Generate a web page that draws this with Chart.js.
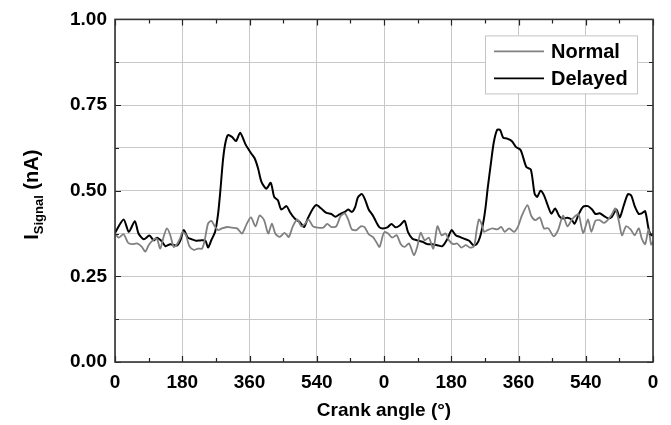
<!DOCTYPE html>
<html>
<head>
<meta charset="utf-8">
<script src="https://cdn.jsdelivr.net/npm/chart.js@4.4.1/dist/chart.umd.min.js"></script>
<style>
  body { margin: 0; background: #fff; }
</style>
</head>
<body>
<canvas id="myChart" width="671" height="425"></canvas>
<script>
// crank angle in degrees over two cycles (0..1440), signal in nA
const normalAngle = [0,10,23,35,46,59,72,81,90,101,112,121,130,139,148,157,166,175,181,190,199,211,222,233,240,249,258,267,276,286,300,313,327,340,353,364,376,387,399,410,420,429,441,454,465,476,488,499,509,518,530,543,557,568,579,592,604,615,624,634,646,658,668,679,690,699,708,717,722,731,742,754,765,775,787,800,809,818,829,840,852,863,874,885,894,905,916,927,939,950,961,968,974,980,988,997,1010,1023,1034,1043,1055,1068,1079,1089,1104,1114,1125,1137,1148,1160,1174,1186,1199,1211,1222,1232,1241,1253,1266,1275,1286,1297,1309,1320,1330,1339,1348,1357,1368,1380,1391,1402,1410,1419,1428,1435,1440];
const normalSignal = [.375,.363,.373,.348,.344,.346,.336,.322,.341,.355,.36,.331,.365,.39,.37,.336,.344,.363,.38,.37,.338,.327,.331,.331,.355,.404,.412,.396,.385,.39,.394,.392,.39,.375,.404,.422,.396,.428,.414,.375,.404,.375,.365,.377,.365,.396,.416,.396,.404,.416,.396,.392,.392,.403,.394,.396,.426,.434,.416,.387,.385,.396,.394,.373,.365,.351,.336,.37,.38,.375,.363,.37,.344,.336,.346,.312,.336,.377,.355,.363,.331,.396,.37,.375,.355,.344,.346,.334,.341,.334,.338,.385,.416,.406,.38,.385,.39,.387,.394,.38,.39,.38,.396,.427,.458,.427,.414,.422,.39,.39,.367,.385,.427,.396,.414,.426,.431,.377,.416,.38,.412,.414,.406,.416,.431,.448,.414,.37,.396,.387,.37,.39,.36,.344,.387,.343,.35];

const delayedAngle = [0,23,37,53,63,77,92,104,112,124,135,148,166,175,184,195,206,217,228,242,249,258,268,276,282,289,295,302,313,324,335,349,356,365,374,383,392,405,417,426,436,445,459,468,481,494,506,516,530,539,552,566,579,590,601,615,624,634,643,650,661,670,679,690,699,708,717,729,740,751,763,775,784,796,809,823,836,849,863,876,890,901,912,923,934,948,959,968,977,986,992,998,1006,1014,1023,1031,1039,1050,1062,1073,1086,1101,1113,1123,1130,1139,1148,1159,1168,1178,1190,1199,1211,1222,1230,1241,1253,1266,1277,1286,1297,1309,1320,1330,1342,1351,1362,1373,1382,1391,1402,1410,1419,1428,1435,1440];
const delayedSignal = [.377,.416,.38,.411,.375,.358,.369,.355,.363,.354,.338,.344,.34,.355,.385,.363,.358,.354,.355,.354,.334,.356,.38,.433,.5,.589,.637,.662,.657,.645,.669,.636,.623,.608,.594,.565,.526,.506,.523,.482,.472,.445,.455,.438,.419,.409,.394,.419,.448,.458,.448,.435,.432,.424,.431,.438,.445,.438,.453,.48,.49,.472,.445,.428,.409,.393,.39,.393,.403,.393,.399,.412,.38,.36,.355,.351,.344,.344,.341,.338,.36,.385,.37,.365,.36,.354,.341,.344,.365,.409,.453,.511,.579,.642,.678,.677,.655,.652,.645,.628,.618,.569,.562,.492,.482,.5,.487,.455,.433,.448,.424,.419,.421,.416,.404,.431,.453,.455,.445,.432,.434,.426,.419,.424,.445,.422,.458,.49,.485,.455,.432,.434,.44,.39,.37,.375];

const xTickLabels = ['0','180','360','540','0','180','360','540','0'];
const yTickLabels = ['0.00','0.25','0.50','0.75','1.00'];
const seriesNames = ['Normal','Delayed'];
const seriesColors = ['#808080','#000000'];

const FONT = '"Liberation Sans", Arial, sans-serif';

function toPoints(xs, ys) {
  return xs.map((v, i) => ({x: v, y: ys[i]}));
}

// inward ticks, frame, legend box and the y title with subscript
const decorations = {
  id: 'decorations',
  afterDraw(chart) {
    const ctx = chart.ctx;
    const a = chart.chartArea;
    const xs = chart.scales.x, ys = chart.scales.y;
    ctx.save();
    ctx.strokeStyle = '#222';
    ctx.lineWidth = 1.2;
    ctx.beginPath();
    for (let v = 0; v <= 1440; v += 90) {
      const px = Math.round(xs.getPixelForValue(v)) + 0.5;
      const len = v % 180 === 0 ? 6 : 4;
      ctx.moveTo(px, a.bottom); ctx.lineTo(px, a.bottom - len);
      ctx.moveTo(px, a.top); ctx.lineTo(px, a.top + len);
    }
    for (let i = 0; i <= 8; i++) {
      const v = i * 0.125;
      const py = Math.round(ys.getPixelForValue(v)) + 0.5;
      const len = i % 2 === 0 ? 6 : 4;
      ctx.moveTo(a.left, py); ctx.lineTo(a.left + len, py);
      ctx.moveTo(a.right, py); ctx.lineTo(a.right - len, py);
    }
    ctx.stroke();

    ctx.lineWidth = 1.6;
    ctx.strokeStyle = '#333';
    ctx.strokeRect(a.left, a.top, a.right - a.left, a.bottom - a.top);

    // legend
    const lx = a.right - 168, ly = a.top + 16, lw = 152, lh = 58;
    ctx.fillStyle = '#fff';
    ctx.fillRect(lx, ly, lw, lh);
    ctx.lineWidth = 1;
    ctx.strokeStyle = '#c4c4c4';
    ctx.strokeRect(lx + 0.5, ly + 0.5, lw, lh);
    ctx.font = 'bold 20px ' + FONT;
    ctx.textBaseline = 'middle';
    ctx.textAlign = 'left';
    chart.data.datasets.forEach((ds, i) => {
      const yy = ly + 16 + i * 27;
      ctx.strokeStyle = ds.borderColor;
      ctx.lineWidth = 1.6;
      ctx.beginPath();
      ctx.moveTo(lx + 9, yy); ctx.lineTo(lx + 59, yy);
      ctx.stroke();
      ctx.fillStyle = '#000';
      ctx.fillText(ds.label, lx + 66, yy + 1);
    });

    // y axis title: I_Signal (nA)
    ctx.translate(31, (a.top + a.bottom) / 2 + 4);
    ctx.rotate(-Math.PI / 2);
    ctx.fillStyle = '#000';
    const big = 'bold 20px ' + FONT, small = 'bold 13px ' + FONT;
    ctx.font = big; const w1 = ctx.measureText('I').width; const w3 = ctx.measureText(' (nA)').width;
    ctx.font = small; const w2 = ctx.measureText('Signal').width;
    let x0 = -(w1 + w2 + w3) / 2;
    ctx.textBaseline = 'alphabetic';
    ctx.font = big; ctx.fillText('I', x0, 7);
    ctx.font = small; ctx.fillText('Signal', x0 + w1, 12);
    ctx.font = big; ctx.fillText(' (nA)', x0 + w1 + w2, 7);
    ctx.restore();
  }
};

const config = {
  type: 'line',
  data: {
    datasets: [
      {label: seriesNames[0], data: toPoints(normalAngle, normalSignal), borderColor: seriesColors[0], borderWidth: 1.8, pointRadius: 0, tension: 0.25, fill: false},
      {label: seriesNames[1], data: toPoints(delayedAngle, delayedSignal), borderColor: seriesColors[1], borderWidth: 2, pointRadius: 0, tension: 0.25, fill: false}
    ]
  },
  options: {
    responsive: false,
    devicePixelRatio: 1,
    animation: false,
    layout: {padding: {top: 19, right: 18, left: 0, bottom: 0}},
    plugins: {legend: {display: false}, tooltip: {enabled: false}},
    scales: {
      x: {
        type: 'linear', min: 0, max: 1440,
        afterFit(s) { s.height = 63; },
        grid: {drawTicks: false, color: c => (c.tick && c.tick.value % 180 === 0) ? '#c8c8c8' : 'rgba(0,0,0,0)'},
        border: {display: false},
        ticks: {stepSize: 90, autoSkip: false, maxRotation: 0, padding: 9, color: '#000',
          font: {family: FONT, size: 19, weight: 'bold'},
          callback: v => v % 180 === 0 ? xTickLabels[v / 180] : ''},
        title: {display: true, text: 'Crank angle (°)', color: '#000', padding: {top: 0, bottom: 3},
          font: {family: FONT, size: 19, weight: 'bold'}}
      },
      y: {
        min: 0, max: 1,
        afterFit(s) { s.width = 115; },
        grid: {drawTicks: false, color: '#c8c8c8'},
        border: {display: false},
        ticks: {stepSize: 0.125, autoSkip: false, padding: 8, color: '#000',
          font: {family: FONT, size: 19, weight: 'bold'},
          callback: v => Math.abs(v * 4 - Math.round(v * 4)) < 1e-6 ? yTickLabels[Math.round(v * 4)] : ''}
      }
    }
  },
  plugins: [decorations]
};

const myChart = new Chart(document.getElementById('myChart'), config);
</script>
</body>
</html>
